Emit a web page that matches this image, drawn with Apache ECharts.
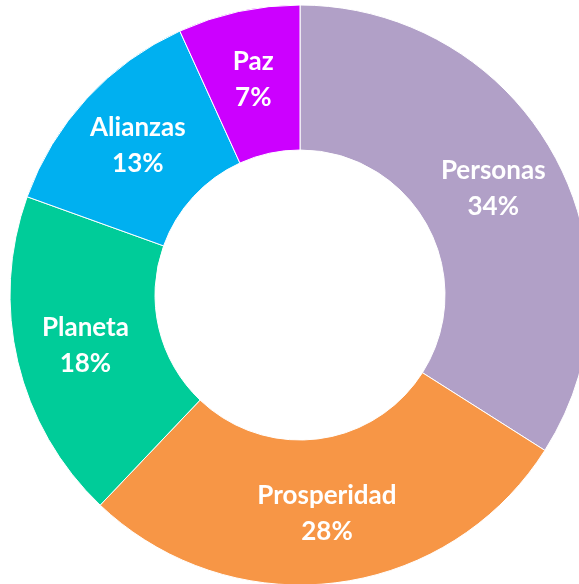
<!DOCTYPE html>
<html>
<head>
<meta charset="utf-8">
<script src="https://cdn.jsdelivr.net/npm/echarts@6/dist/echarts.min.js"></script>
<style>
	html, body { margin: 0; padding: 0; background: #fff; }
	#chart { width: 579px; height: 584px; }
</style>
</head>
<body>
<div id="chart"></div>
<script>
var categories = ['Personas', 'Prosperidad', 'Planeta', 'Alianzas', 'Paz'];
var values = [34.0, 28.1, 18.4, 12.7, 6.8];
var percentLabels = ['34%', '28%', '18%', '13%', '7%'];
var colors = ['#B1A0C7', '#F79646', '#00CC99', '#00B0F0', '#CC00FF'];

var chart = echarts.init(document.getElementById('chart'));

var data = categories.map(function(name, i){
	return { name: name, value: values[i], itemStyle: { color: colors[i] } };
});

chart.setOption({
	animation: false,
	series: [{
		type: 'pie',
		center: [300, 295],
		radius: [145, 290],
		startAngle: 90,
		clockwise: true,
		avoidLabelOverlap: false,
		itemStyle: {
			borderColor: '#fff',
			borderWidth: 1
		},
		label: {
			show: true,
			position: 'inside',
			color: '#fff',
			fontFamily: 'Lato',
			fontWeight: 'bold',
			fontSize: 26,
			lineHeight: 36,
			formatter: function(p){
				return p.name + '\n' + percentLabels[p.dataIndex];
			}
		},
		labelLine: { show: false },
		emphasis: { disabled: true },
		data: data
	}]
});
</script>
</body>
</html>
